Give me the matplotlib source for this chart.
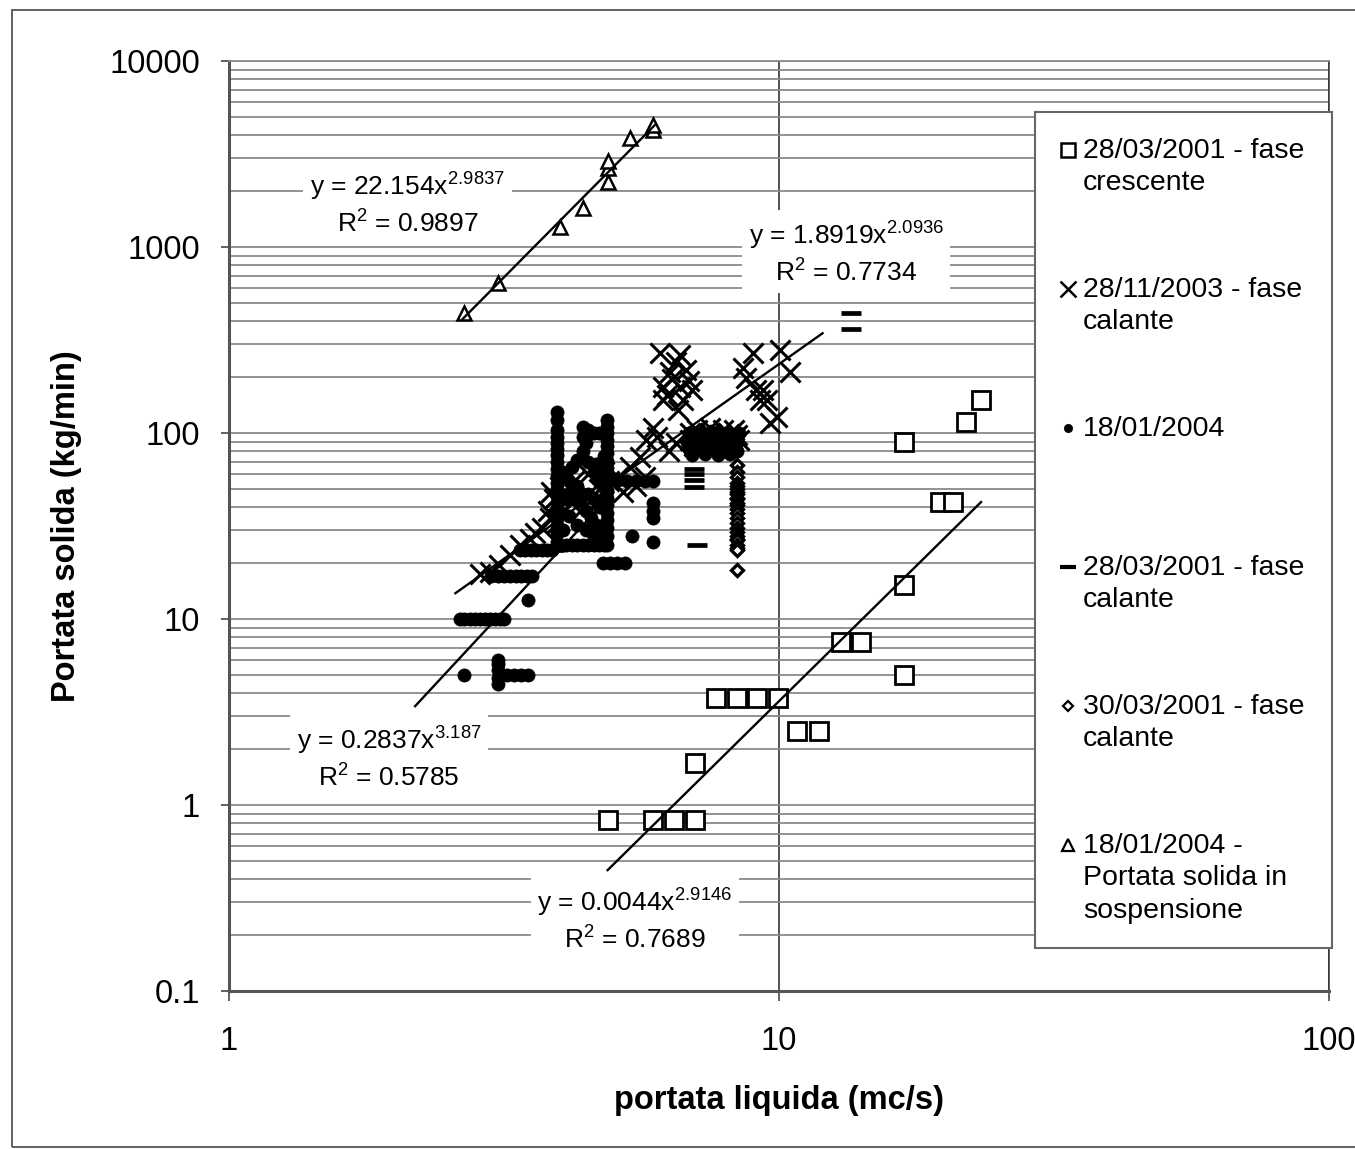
import numpy as np
import matplotlib.pyplot as plt
from matplotlib.lines import Line2D
from matplotlib.patches import Rectangle
from matplotlib.ticker import NullLocator, LogLocator

plt.rcParams['font.family'] = ['Liberation Sans', 'DejaVu Sans']
plt.rcParams['mathtext.fontset'] = 'custom'
plt.rcParams['mathtext.rm'] = 'Liberation Sans'
plt.rcParams['mathtext.it'] = 'Liberation Sans:italic'
plt.rcParams['mathtext.bf'] = 'Liberation Sans:bold'

# 28/03/2001 - fase crescente (quadrati)
cresc_x = [4.88, 5.91, 6.45, 7.03, 7.03, 7.67, 8.38, 9.13, 9.97, 10.8, 11.8,
           12.96, 14.1, 16.9, 16.9, 16.9, 19.6, 20.7, 21.9, 23.3]
cresc_y = [0.83, 0.83, 0.83, 0.83, 1.69, 3.75, 3.75, 3.75, 3.75, 2.5, 2.5,
           7.5, 7.5, 5.0, 15.2, 89.8, 42.8, 42.8, 114, 150]

# 28/11/2003 - fase calante (croci)
nov_x = [6.08, 6.61, 6.34, 6.78, 6.15, 6.61, 6.95, 6.15, 6.70, 6.55, 5.90, 5.74, 6.00, 5.59,
         8.95, 10.04, 8.60, 8.70, 10.47, 9.10, 9.35, 9.24, 9.50, 9.90, 9.63,
         5.36, 5.10, 4.90, 4.70, 4.45, 4.20, 4.00, 4.25, 3.83, 3.95, 4.05, 3.53, 3.38,
         3.24, 3.10, 2.98, 2.86, 3.60, 4.50, 4.80, 5.20, 5.50, 5.70, 4.35, 4.60,
         6.90, 7.20, 7.50, 7.80, 8.10, 8.40, 7.00, 7.60, 8.20, 6.50, 6.30,
         3.70, 3.80, 3.90, 3.85, 6.90, 7.30, 7.70, 8.10, 8.45, 7.10, 7.50, 7.90, 8.30,
         6.40, 6.85, 6.25, 6.50]
nov_y = [269, 262, 213, 218, 177, 177, 170, 150, 150, 133, 106, 92, 95, 74,
         269, 279, 223, 198, 213, 170, 170, 150, 150, 122, 113,
         66, 58, 55, 50, 46, 42, 51, 56, 35, 33, 38, 27, 25,
         22, 19.5, 18, 17.5, 29, 60, 62, 48, 52, 58, 38, 41,
         100, 98, 100, 97, 99, 98, 85, 88, 86, 88, 80,
         31, 38, 44, 48, 92, 94, 93, 94, 92, 104, 106, 104, 104,
         195, 190, 160, 240]

# 18/01/2004 (punti)
gen_x = [2.67,
         2.63, 2.68, 2.74, 2.80, 2.86, 2.92, 2.98, 3.04, 3.11, 3.16,
         3.08, 3.08, 3.08, 3.08, 3.08,
         3.20, 3.30, 3.40, 3.50,
         3.50,
         3.00, 3.08, 3.16, 3.24, 3.32, 3.40, 3.48, 3.55,
         3.38, 3.46, 3.54, 3.62, 3.70, 3.78, 3.86,
         4.10, 4.20, 4.30, 4.40, 4.50, 4.60, 4.70, 4.80,
         3.95, 3.95, 3.95, 3.95, 3.95, 3.95, 3.95, 3.95, 3.95, 3.95,
         3.95, 3.95, 3.95, 3.95, 3.95, 3.95, 3.95, 3.95, 3.95,
         4.86, 4.86, 4.86, 4.86, 4.86, 4.86, 4.86, 4.86, 4.86,
         4.86, 4.86, 4.86, 4.86, 4.86, 4.86, 4.86, 4.86, 4.86,
         4.40, 4.50, 4.60, 4.70, 4.40, 4.45,
         4.10, 4.20, 4.30, 4.40, 4.50, 4.60, 4.70, 4.20, 4.10, 4.30, 4.50, 4.60,
         4.05, 4.15, 4.25, 4.35, 4.45, 4.55, 4.65, 4.75, 4.15, 4.30, 4.45, 4.60,
         4.05, 4.70, 4.80, 4.75, 4.65, 4.80,
         5.10, 5.30, 5.50, 5.70, 5.90,
         5.91, 5.91, 5.91, 5.91,
         5.40,
         4.78, 4.93, 5.08, 5.25,
         6.80, 7.00, 7.20, 7.40, 7.60, 7.80, 8.00, 8.20, 8.40,
         6.90, 7.30, 7.70, 8.10, 8.40,
         6.85, 7.05, 7.25, 7.45, 7.65, 7.85, 8.05, 8.25, 8.45,
         6.95, 7.35, 7.75, 8.15]
gen_y = [5.0,
         10, 10, 10, 10, 10, 10, 10, 10, 10, 10,
         4.5, 4.8, 5.3, 5.7, 6.0,
         5.0, 5.0, 5.0, 5.0,
         12.7,
         17, 17, 17, 17, 17, 17, 17, 17,
         23.5, 23.5, 23.5, 23.5, 23.5, 23.5, 23.5,
         25, 25, 25, 25, 25, 25, 25, 25,
         130, 117, 104, 95, 88, 82, 76, 70, 64, 59,
         54, 50, 46, 42, 38, 35, 32, 29, 26,
         117, 108, 100, 92, 85, 78, 71, 65, 59,
         54, 49, 45, 41, 37, 34, 31, 28, 25,
         108, 104, 100, 100, 95, 88,
         60, 66, 72, 80, 70, 62, 55, 48, 44, 52, 47, 44,
         62, 55, 47, 43, 38, 35, 32, 30, 36, 32, 30, 28,
         30, 40, 45, 60, 68, 75,
         56, 55, 55, 55, 55,
         42, 38, 35, 26,
         27.8,
         20, 20, 20, 20,
         90, 88, 90, 88, 90, 88, 90, 88, 90,
         80, 82, 80, 82, 80,
         100, 97, 100, 97, 100, 97, 100, 97, 100,
         76, 77, 76, 77]

# 28/03/2001 - fase calante (trattini)
mar28_x = [13.5, 13.5, 7.0, 7.0, 7.0, 7.0, 7.1, 2.75, 2.90, 3.05, 3.15, 3.30, 3.45,
           3.50, 3.70, 3.90, 4.20, 4.50, 4.75]
mar28_y = [442, 362, 64, 60, 56, 51, 25, 10, 10, 10, 17.5, 17.5, 17.5,
           23.5, 23.5, 23.5, 25, 25, 25]

# 30/03/2001 - fase calante (rombi)
mar30_x = [8.39, 8.39, 8.39, 8.39, 8.39, 8.39, 8.39, 8.39, 8.39, 8.39,
           8.39, 8.39, 8.39, 8.39, 8.39, 8.39, 8.39, 8.39, 8.39, 8.39,
           8.39, 8.39, 8.39, 8.39, 8.39]
mar30_y = [67, 62, 58, 54, 52, 50, 48, 47, 45, 44, 42, 41, 39, 37,
           35, 33, 31, 29.5, 28, 27, 26.5, 25, 24, 23.5, 18.3]

# 18/01/2004 - portata solida in sospensione (triangoli)
susp_x = [2.67, 3.09, 4.0, 4.4, 4.89, 4.89, 4.89, 5.36, 5.91, 5.91]
susp_y = [440, 643, 1285, 1615, 2245, 2650, 2900, 3840, 4255, 4530]

# linee di tendenza (potenza): coefficiente, esponente, R2, intervallo x
trend_a = [22.154, 1.8919, 0.2837, 0.0044]
trend_b = [2.9837, 2.0936, 3.187, 2.9146]
trend_r2 = ['0.9897', '0.7734', '0.5785', '0.7689']
trend_b_txt = ['2.9837', '2.0936', '3.187', '2.9146']
trend_x0 = [2.66, 2.58, 2.18, 4.88]
trend_x1 = [5.95, 12.0, 5.0, 23.3]
trend_lbl_pos = [(0.1623, 0.846), (0.561, 0.7935), (0.1455, 0.2505), (0.369, 0.0763)]

labels = ['28/03/2001 - fase\ncrescente', '28/11/2003 - fase\ncalante', '18/01/2004',
          '28/03/2001 - fase\ncalante', '30/03/2001 - fase\ncalante',
          '18/01/2004 -\nPortata solida in\nsospensione']

W, H = 1355, 1149
fig = plt.figure(figsize=(W / 100, H / 100), dpi=100)
ax = fig.add_axes([229 / W, 1 - 991 / H, 1100 / W, 930 / H])
ax.set_xscale('log')
ax.set_yscale('log')
ax.set_xlim(1, 100)
ax.set_ylim(0.1, 10000)

series = [
    (cresc_x, cresc_y, dict(marker='s', ms=13, mfc='white', mec='black', mew=2.0), dict(ms=10, mew=1.8)),
    (nov_x, nov_y, dict(marker='x', ms=14, mec='black', mew=2.2), dict(ms=11, mew=1.8)),
    (gen_x, gen_y, dict(marker='o', ms=9.5, mfc='black', mec='black', mew=0.5), dict(ms=6, mew=0.5)),
    (mar28_x, mar28_y, dict(marker='_', ms=15, mec='black', mew=3.4), dict(ms=11, mew=3)),
    (mar30_x, mar30_y, dict(marker='D', ms=6.5, mfc='white', mec='black', mew=2.4), dict(ms=5, mew=1.6)),
    (susp_x, susp_y, dict(marker='^', ms=10, mfc='white', mec='black', mew=1.8), dict(ms=9, mew=1.6)),
]
for xs, ys, st, lst in series:
    ax.plot(xs, ys, ls='none', zorder=3, **st)

for a, b, x0, x1 in zip(trend_a, trend_b, trend_x0, trend_x1):
    xx = np.geomspace(x0, x1, 60)
    ax.plot(xx, a * xx ** b, color='black', lw=1.7, zorder=4)

for a, bt, r2, (px, py) in zip(trend_a, trend_b_txt, trend_r2, trend_lbl_pos):
    ax.text(px, py, 'y = %sx$^{%s}$\nR$^{2}$ = %s' % (a, bt, r2), transform=ax.transAxes,
            ha='center', va='center', fontsize=19, linespacing=1.35, zorder=2,
            bbox=dict(boxstyle='square,pad=0.25', fc='white', ec='none'))

# griglia
ax.set_axisbelow(True)
ax.yaxis.set_minor_locator(LogLocator(base=10, subs=np.arange(2, 10)))
ax.xaxis.set_minor_locator(NullLocator())
ax.grid(True, which='both', axis='y', color='#8a8a8a', lw=1.3)
ax.grid(True, which='major', axis='x', color='#222222', lw=1.1)

ax.set_xticks([1, 10, 100], labels=['1', '10', '100'])
ax.set_yticks([0.1, 1, 10, 100, 1000, 10000], labels=['0.1', '1', '10', '100', '1000', '10000'])
ax.tick_params(axis='y', which='major', direction='out', length=6, width=1.3, color='#555555',
               pad=15, labelsize=23.5)
ax.tick_params(axis='x', which='major', direction='out', length=7, width=1.3, color='#555555',
               pad=18, labelsize=23.5)
ax.tick_params(which='minor', length=0)
for side in ['left', 'bottom']:
    ax.spines[side].set_color('#555555')
    ax.spines[side].set_linewidth(2.2)
ax.spines['top'].set_color('#8a8a8a')
ax.spines['top'].set_linewidth(1.3)
ax.spines['right'].set_color('#333333')
ax.spines['right'].set_linewidth(1.1)

ax.set_xlabel('portata liquida (mc/s)', fontsize=23.5, fontweight='bold', va='center')
ax.xaxis.set_label_coords(0.5, -(1100 - 991) / 930)
ax.set_ylabel('Portata solida (kg/min)', fontsize=23.5, fontweight='bold', va='center')
ax.yaxis.set_label_coords(-(229 - 67) / 1100, 0.5)

# legenda
fig.add_artist(Rectangle((1035 / W, 1 - 948 / H), 297 / W, 836 / H, transform=fig.transFigure,
                         fc='white', ec='#666666', lw=1.5, zorder=5))
for i, ((xs, ys, st, lst), lab) in enumerate(zip(series, labels)):
    yc = 150 + 139 * i
    st2 = dict(st)
    st2.update(lst)
    fig.add_artist(Line2D([1068 / W], [1 - yc / H], transform=fig.transFigure, ls='none',
                          zorder=6, **st2))
    fig.text(1083 / W, 1 - (yc - 12) / H, lab, ha='left', va='top', fontsize=20.5,
             linespacing=1.32, zorder=7)

# cornice esterna
fig.add_artist(Rectangle((12 / W, 2 / H), 1.0, 1 - 12 / H, transform=fig.transFigure,
                         fill=False, ec='#555555', lw=1.3, zorder=8))

fig.savefig('out.png', dpi=100)
